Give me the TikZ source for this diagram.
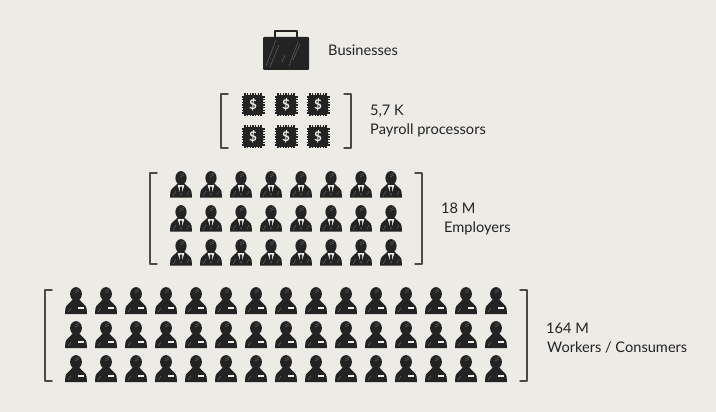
\documentclass[tikz,border=0pt]{standalone}
\usepackage{fontspec}
\setmainfont{Lato}
\definecolor{paper}{HTML}{ECEBE6}
\definecolor{ink}{HTML}{232323}
\definecolor{scratch}{HTML}{6E6E6C}
\definecolor{rule}{HTML}{4A4A48}
\tikzset{
  bracketline/.style={draw=rule, line width=1.5pt, line cap=round, line join=round},
  caption/.style={anchor=west, inner sep=0pt, text=ink, font=\fontsize{14.6}{16}\selectfont},
  worker/.pic={
    \fill[ink] (0,0) ellipse (5.9 and 6.9);
    \fill[ink] (-11,20) -- (-10.6,14.5) .. controls (-10,10.5) and (-6,9.5) .. (-3,5) -- (3,5) .. controls (6,9.5) and (10,10.5) .. (10.6,14.5) -- (11,20) -- cycle;
    \fill[paper] (1.5,13) rectangle (7.5,14.8);
    \draw[scratch, line width=0.4pt] (-1,-3) -- (3,-5) (-1,-1) -- (3,-3) (-8,18) -- (-5,14);
  },
  employer/.pic={
    \fill[ink] (0,0) ellipse (5.6 and 6.9);
    \fill[ink] (-11,19.5) -- (-10.6,14) .. controls (-10,10) and (-6,9) .. (-3,5) -- (3,5) .. controls (6,9) and (10,10) .. (10.6,14) -- (11,19.5) -- cycle;
    \fill[paper] (-3.4,7) -- (3.4,7) -- (0,17.5) -- cycle;
    \fill[ink] (-1.1,8.5) -- (1.1,8.5) -- (1.2,14) -- (0,17.5) -- (-1.2,14) -- cycle;
    \draw[scratch, line width=0.4pt] (-1,-3) -- (3,-5) (-1,-1) -- (3,-3) (-8,18) -- (-5,13) (6,17) -- (8,13);
  },
  chip/.pic={
    \foreach \pin in {-8,-5.33,-2.67,0,2.67,5.33,8} {
      \draw[ink, line width=1.3pt] (\pin,-11.5) -- (\pin,11.5);
      \draw[ink, line width=1.3pt] (-11.5,\pin) -- (11.5,\pin);
    }
    \fill[ink, rounded corners=3pt] (-10,-10) rectangle (10,10);
    \node[inner sep=0pt, text=paper, font=\bfseries\fontsize{13.5}{13.5}\selectfont] (-sign) at (0,0) {\$};
  },
}
\begin{document}
\begin{tikzpicture}[x=1pt, y=-1pt]
  \fill[paper] (0,0) rectangle (716,412);

  %% ════ Businesses ════
  \fill[ink, rounded corners=1pt] (263,37) rectangle (309,70);
  \draw[ink, line width=1.4pt, line join=round] (275,37) -- (275,31) -- (297,31) -- (297,37);
  \draw[scratch, line width=0.4pt] (266,66) -- (276,40) (270,67) -- (279,45) (289,66) -- (298,42) (293,60) -- (300,44) (282,62) -- (285,55);
  \node[caption] (businesses) at (328,50) {Businesses};

  %% ════ Payroll processors ════
  \foreach \col/\px in {1/253,2/286,3/318}
    \foreach \row/\py in {1/105,2/137}
      \pic (chip\col\row) at (\px,\py) {chip};
  \draw[bracketline] (228,94) -- (221,94) -- (221,148) -- (228,148);
  \draw[bracketline] (344,94) -- (351,94) -- (351,148) -- (344,148);
  \node[caption] (processorcount) at (370,111) {5,7 K};
  \node[caption] (processors) at (370,130.5) {Payroll processors};

  %% ════ Employers ════
  \foreach \col in {0,...,7}
    \foreach \py in {178,212,246}
      \pic at ({181+30*\col},\py) {employer};
  \draw[bracketline] (157,173) -- (150,173) -- (150,264) -- (157,264);
  \draw[bracketline] (415,173) -- (422,173) -- (422,264) -- (415,264);
  \node[caption] (employercount) at (441,208) {18 M};
  \node[caption] (employers) at (444,228) {Employers};

  %% ════ Workers ════
  \foreach \col in {0,...,14}
    \foreach \py in {294,328,362}
      \pic at ({76+30*\col},\py) {worker};
  \draw[bracketline] (52,290) -- (45,290) -- (45,381) -- (52,381);
  \draw[bracketline] (520,290) -- (527,290) -- (527,381) -- (520,381);
  \node[caption] (workercount) at (546,328) {164 M};
  \node[caption] (workers) at (547,347) {Workers / Consumers};

  \pgfresetboundingbox
  \path[use as bounding box] (0,0) rectangle (716,412);
\end{tikzpicture}
\end{document}
